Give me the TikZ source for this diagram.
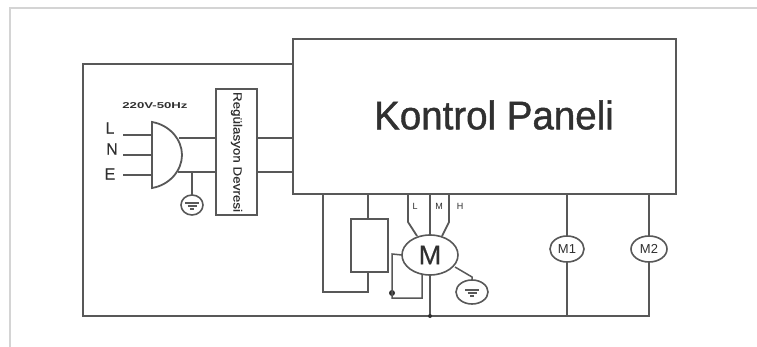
\documentclass[tikz,border=0pt]{standalone}
\usepackage{fontspec}
\setmainfont{Liberation Sans}
\newfontfamily\heavyf[FakeBold=1.1]{Liberation Sans}
\newfontfamily\medf[FakeBold=0.25]{Liberation Sans}
\usetikzlibrary{calc}
\definecolor{wire}{HTML}{585858}
\definecolor{ink}{HTML}{303030}
\definecolor{frameline}{HTML}{D4D4D4}
\tikzset{
  x=1pt,y=-1pt,
  wirel/.style={draw=wire,line width=1.8pt,line join=miter},
  thinw/.style={draw=wire,line width=1.5pt},
  boxn/.style={draw=wire,line width=1.8pt,fill=white,rectangle,inner sep=0pt,outer sep=0pt,text=ink},
  ell/.style={draw=wire,line width=1.6pt,fill=white,ellipse,inner sep=0pt,outer sep=0pt,text=ink},
  lab/.style={inner sep=0pt,text=ink},
  dotn/.style={circle,fill=ink,inner sep=0pt,minimum size=4pt},
}
\usetikzlibrary{shapes.geometric}
\newcommand{\gsym}[1]{%
  \draw[draw=wire,line width=1.2pt] ($(#1)+(-7,-2)$) -- ($(#1)+(7,-2)$);
  \draw[draw=wire,line width=1.2pt] ($(#1)+(-4.5,1)$) -- ($(#1)+(4.5,1)$);
  \draw[draw=wire,line width=1.2pt] ($(#1)+(-2,4)$) -- ($(#1)+(2,4)$);
}
\begin{document}
\begin{tikzpicture}
\useasboundingbox (0,0) rectangle (757,347);
\fill[white] (0,0) rectangle (757,347);
\coordinate (f1) at (757,8.5);
\coordinate (f2) at (10,8.5);
\coordinate (f3) at (10,347);
\draw[frameline,line width=2pt] (f1) -- (f2) -- (f3);

% main boxes
\node[boxn,minimum width=383pt,minimum height=155pt] (panel) at (484.5,116.5) {};
\node[lab,font=\heavyf\fontsize{38.5}{40}\selectfont] (title) at (494,115) {\scalebox{1.0}[1.04]{Kontrol Paneli}};
\node[boxn,minimum width=41pt,minimum height=126pt] (reg) at (236.5,152) {};
\node[lab,rotate=-90,font=\medf\fontsize{11}{12}\selectfont] (regt) at (236.5,152) {\scalebox{1.22}[1.1]{Regülasyon Devresi}};

% outer loop
\coordinate (pl) at (293,64);
\coordinate (tl) at (83,64);
\coordinate (bl) at (83,316);
\coordinate (br) at (649,316);
\node[ell,minimum width=36pt,minimum height=26pt,font=\fontsize{13}{14}\selectfont] (m2) at (649,249) {M2};
\node[ell,minimum width=34pt,minimum height=26pt,font=\fontsize{13}{14}\selectfont] (m1) at (567,249) {M1};
\coordinate (m1t) at (567,194);
\coordinate (m1b) at (567,316);
\coordinate (m2t) at (649,194);
\draw[wirel] (pl) -- (tl) -- (bl) -- (br) -- (m2.south);
\draw[wirel] (m2.north) -- (m2t);
\draw[wirel] (m1t) -- (m1.north);
\draw[wirel] (m1.south) -- (m1b);

% plug
\coordinate (pt) at (152,122);
\coordinate (pb) at (152,188);
\coordinate (pr) at (182,155);
\draw[wirel,fill=white] (pt) .. controls (170,125) and (182,140) .. (pr) .. controls (182,170) and (170,185) .. (pb) -- cycle;
\coordinate (iL) at (123,135); \coordinate (iLe) at (152,135);
\coordinate (iN) at (123,155); \coordinate (iNe) at (152,155);
\coordinate (iE) at (123,175); \coordinate (iEe) at (152,175);
\draw[thinw] (iL) -- (iLe);
\draw[thinw] (iN) -- (iNe);
\draw[thinw] (iE) -- (iEe);
\node[lab,font=\medf\fontsize{16}{17}\selectfont] (tL) at (110,128) {L};
\node[lab,font=\medf\fontsize{16}{17}\selectfont] (tN) at (112,149) {N};
\node[lab,font=\medf\fontsize{16}{17}\selectfont] (tE) at (110,174) {E};
\node[lab,font=\bfseries\fontsize{8.5}{9}\selectfont] (volt) at (155,106) {\scalebox{1.55}[1]{220V-50Hz}};
\coordinate (o1) at (179,138);
\coordinate (o2) at (178,172);
\coordinate (r1) at (257,138);
\coordinate (r2) at (257,172);
\draw[wirel] (o1) -- (o1 -| reg.west);
\draw[wirel] (o2) -- (o2 -| reg.west);
\draw[wirel] (r1) -- (r1 -| panel.west);
\draw[wirel] (r2) -- (r2 -| panel.west);
\node[ell,minimum width=22pt,minimum height=20pt] (g1) at (192,205) {};
\coordinate (g1t) at (192,172);
\draw[thinw] (g1t) -- (g1.north);
\gsym{g1}

% relay branch
\node[boxn,minimum width=37pt,minimum height=53pt] (relay) at (369.5,245.5) {};
\coordinate (a1) at (323,194);
\coordinate (a2) at (323,292);
\coordinate (a3) at (368,292);
\coordinate (a4) at (368,272);
\coordinate (a5) at (368,194);
\draw[wirel] (a1) -- (a2) -- (a3) -- (a4);
\draw[wirel] (a5) -- (a5 |- relay.north);

% motor
\node[ell,minimum width=56pt,minimum height=40pt,font=\medf\fontsize{27}{28}\selectfont] (mot) at (430,255) {M};
\coordinate (wL0) at (408,194); \coordinate (wL1) at (408,222); \coordinate (wL2) at (417,236);
\coordinate (wM0) at (430,194);
\coordinate (wH0) at (449,194); \coordinate (wH1) at (449,222); \coordinate (wH2) at (442,236);
\draw[wirel] (wL0) -- (wL1) -- (wL2);
\draw[wirel] (wM0) -- (mot.north);
\draw[wirel] (wH0) -- (wH1) -- (wH2);
\node[lab,font=\fontsize{9}{10}\selectfont] (tl1) at (415,206) {L};
\node[lab,font=\fontsize{9}{10}\selectfont] (tl2) at (439,206) {M};
\node[lab,font=\fontsize{9}{10}\selectfont] (tl3) at (460,206) {H};
\coordinate (ml) at (392,254);
\coordinate (mlb) at (392,298);
\coordinate (mbr) at (422,298);
\coordinate (mbt) at (422,274);
\node[dotn,minimum size=6pt] (d1) at (392,293) {};
\draw[thinw] (mot.west) -- (ml) -- (mlb) -- (mbr) -- (mbt);
\coordinate (mbus) at (430,316);
\draw[wirel] (mot.south) -- (mbus);
\node[dotn] (d2) at (mbus) {};
% motor ground
\node[ell,minimum width=32pt,minimum height=24pt] (g2) at (472,292) {};
\coordinate (g2a) at (455,267);
\coordinate (g2b) at (472,277);
\draw[thinw] (g2a) -- (g2b) -- (g2.north);
\gsym{g2}
\end{tikzpicture}
\end{document}
